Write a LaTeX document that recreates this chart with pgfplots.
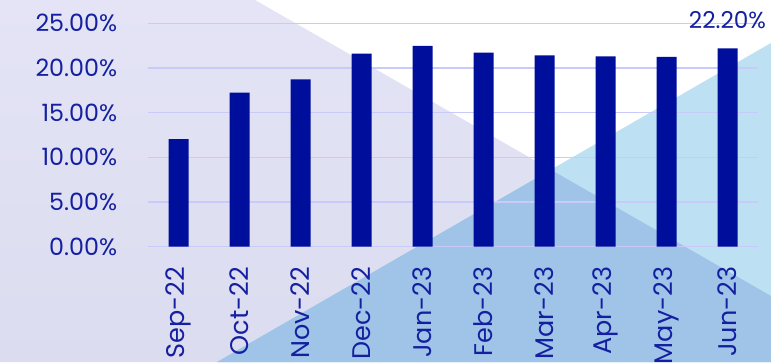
\documentclass[border=0pt]{standalone}
\usepackage{pgfplots}
\pgfplotsset{compat=1.18}
\usepackage{fontspec}
\setmainfont{Poppins}
\definecolor{navy}{HTML}{000E9C}
\definecolor{txt}{HTML}{1420A0}
\definecolor{lav}{HTML}{DCDCF0}
\definecolor{lavtop}{HTML}{E4E4F6}
\definecolor{lblue}{HTML}{BDE0F3}
\definecolor{mblue}{HTML}{9FC4E8}
\definecolor{gridc}{HTML}{C8CAFA}
\begin{document}
\begin{tikzpicture}[x=1pt,y=1pt]
% background (coordinates in px, y measured from top -> 362-y)
\path[use as bounding box] (0,0) rectangle (771,362);
\fill[white] (0,0) rectangle (771,362);
% lavender region
\shade[top color=lavtop, bottom color=lav] (0,362) -- (255,362) -- (771,66) -- (771,0) -- (0,0) -- cycle;
% light blue region
\fill[lblue] (217,0) -- (771,319) -- (771,0) -- cycle;
% overlap
\begin{scope}
\clip (217,0) -- (771,319) -- (771,0) -- cycle;
\fill[mblue] (0,362) -- (255,362) -- (771,66) -- (771,0) -- (0,0) -- cycle;
\end{scope}
\begin{axis}[
  at={(148pt,115.3pt)}, anchor=south west,
  scale only axis, width=610pt, height=223.4pt,
  ymin=0, ymax=25, xmin=-0.5, xmax=9.5,
  axis line style={draw=none},
  ybar, bar width=20pt,
  ytick={0,5,10,15,20,25},
  yticklabels={0.00\%,5.00\%,10.00\%,15.00\%,20.00\%,25.00\%},
  xtick={0,...,9},
  xticklabels={Sep-22,Oct-22,Nov-22,Dec-22,Jan-23,Feb-23,Mar-23,Apr-23,May-23,Jun-23},
  ymajorgrids, grid style={gridc, line width=1.4pt},
  major tick length=0pt,
  tick label style={text=txt, inner sep=0pt},
  yticklabel style={anchor=east, font=\fontsize{23.8}{28}\selectfont},
  yticklabel shift={30.7pt},
  xticklabel style={rotate=90, anchor=east, font=\fontsize{25.5}{30}\selectfont},
  xticklabel shift={20pt},
  clip=false,
]
\addplot[fill=navy, draw=none] coordinates {
(0,12.05) (1,17.23) (2,18.73) (3,21.60) (4,22.46) (5,21.71) (6,21.42) (7,21.31) (8,21.23) (9,22.20)};
\node[anchor=south, inner sep=0pt, text=txt, font=\fontsize{23.2}{28}\selectfont, yshift=19pt] at (axis cs:9,22.2) {22.20\%};
\end{axis}
\end{tikzpicture}
\end{document}
